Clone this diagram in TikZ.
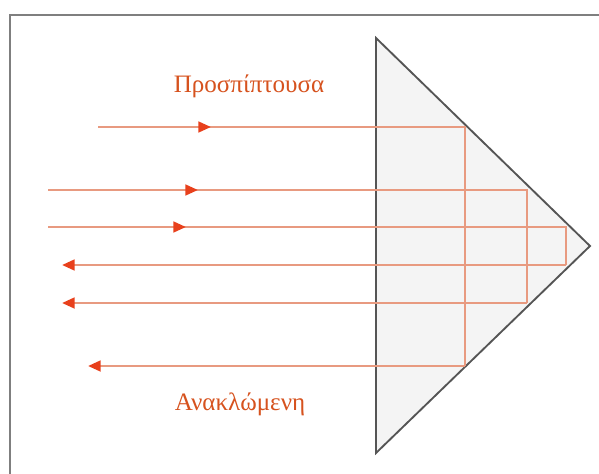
\documentclass[tikz,border=0pt]{standalone}
\usepackage{fontspec}
\setmainfont{Liberation Serif}
\usetikzlibrary{arrows.meta}
\definecolor{raycol}{HTML}{E89A80}
\definecolor{tipcol}{HTML}{E8401C}
\definecolor{labelcol}{HTML}{D6521E}
\definecolor{framecol}{HTML}{7F7F7F}
\definecolor{prismfill}{HTML}{F4F4F4}
\definecolor{prismedge}{HTML}{555555}
\tikzset{
  ray/.style={draw=raycol, line width=2pt},
  raytip/.style={-{Triangle[length=9.5pt,width=8pt,color=tipcol]}},
  prism/.style={fill=prismfill, draw=prismedge, line width=1.4pt, line join=miter},
  frame/.style={draw=framecol, line width=2.2pt},
  lbl/.style={text=labelcol, font=\fontsize{18.8}{21}\selectfont, inner sep=0pt}
}
\begin{document}
\begin{tikzpicture}[x=0.75pt, y=-0.75pt]
  \useasboundingbox (0,0) rectangle (599,474);
  % outer frame, running past the right and bottom edges
  \begin{scope}
    \clip (0,0) rectangle (599,474);
    \draw[frame] (10,15) rectangle (640,520);
  \end{scope}
  % prism
  \coordinate (pt) at (376,38);
  \coordinate (pb) at (376,453);
  \coordinate (pa) at (590,246);
  \draw[prism] (pt) -- (pa) -- (pb) -- cycle;
  % ray 1 (outer)
  \coordinate (a1) at (98,127);
  \coordinate (m1) at (211,127);
  \coordinate (h1) at (465,127);
  \coordinate (b1) at (465,366);
  \coordinate (e1) at (88,366);
  % ray 2
  \coordinate (a2) at (48,190);
  \coordinate (m2) at (198,190);
  \coordinate (h2) at (527,190);
  \coordinate (b2) at (527,303);
  \coordinate (e2) at (62,303);
  % ray 3 (inner)
  \coordinate (a3) at (48,227);
  \coordinate (m3) at (186,227);
  \coordinate (h3) at (566,227);
  \coordinate (b3) at (566,265);
  \coordinate (e3) at (62,265);
  \foreach \i in {1,2,3}{
    \draw[ray, line join=miter] (a\i) -- (h\i) -- (b\i);
    \draw[ray, raytip] (b\i) -- (e\i);
    \draw[ray, raytip] (a\i) -- (m\i);
  }
  % labels
  \node[lbl] (inc) at (249,86) {Προσπίπτουσα};
  \node[lbl] (ref) at (240,404) {Ανακλώμενη};
\end{tikzpicture}
\end{document}
